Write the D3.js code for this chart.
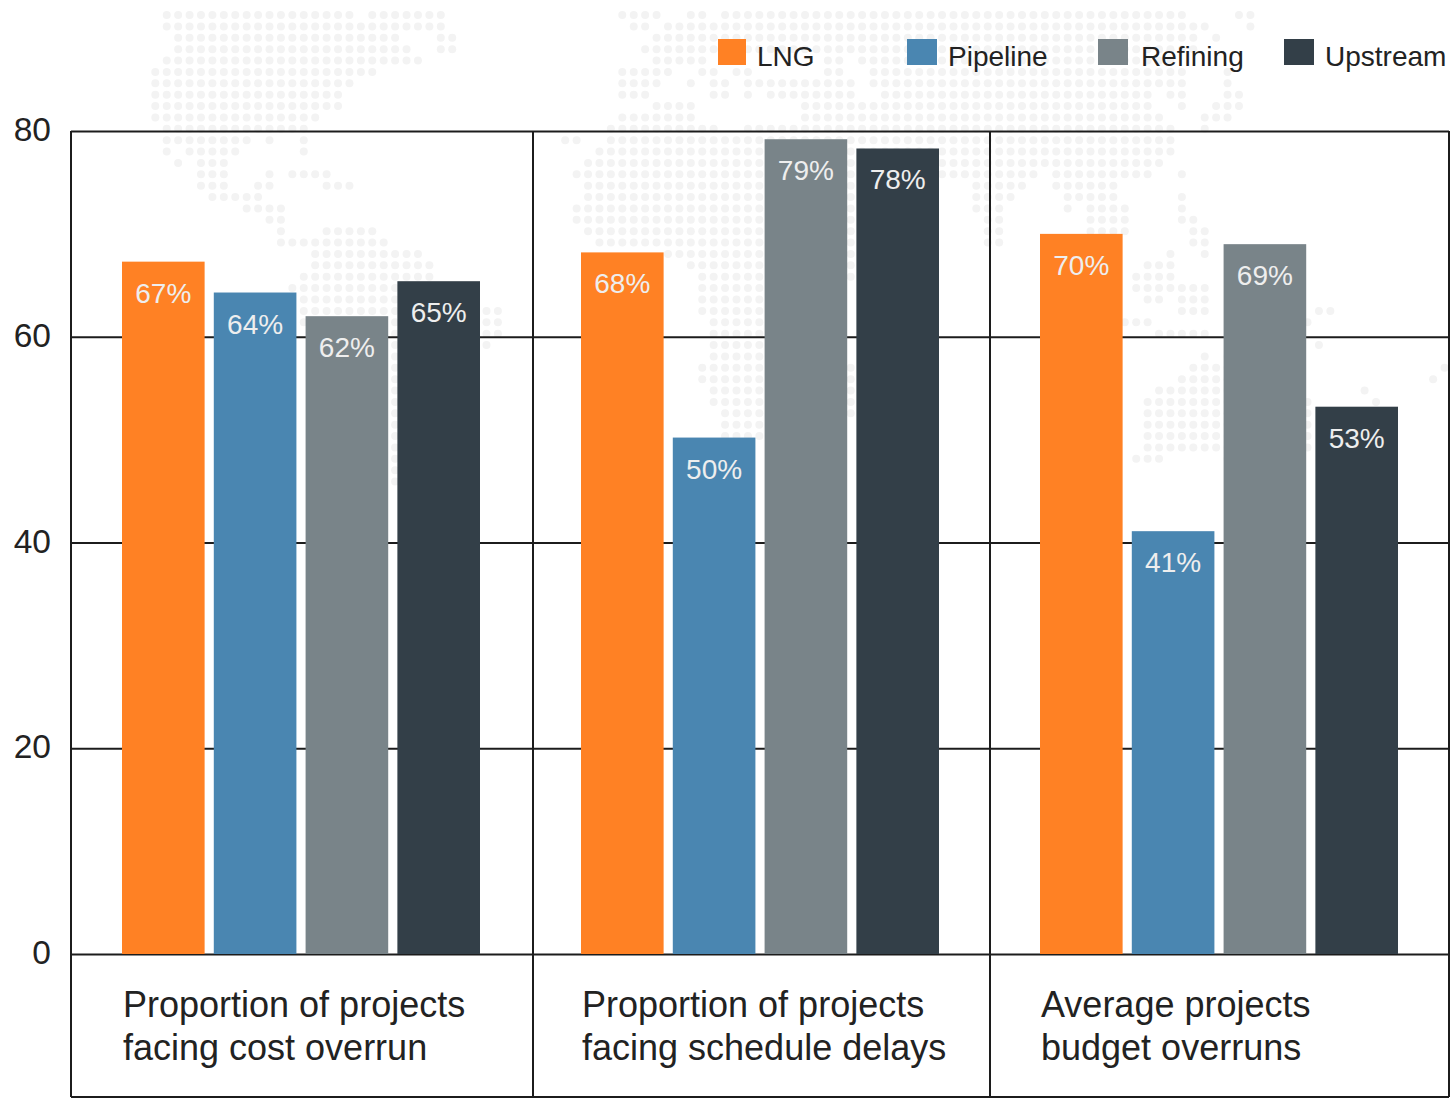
<!DOCTYPE html>
<html lang="en">
    <head>
        <meta charset="UTF-8" />
        <title>Project overruns by segment</title>
        <script src="https://cdn.jsdelivr.net/npm/d3@7"></script>
        <style>
            body { margin: 0; background: #fff; }
            svg { display: block; }
            text { font-family: "Liberation Sans", Arial, sans-serif; }
        </style>
    </head>
    <body>
        <div id="main_div"></div>
        <script>
          const segments = ["LNG", "Pipeline", "Refining", "Upstream"];
          const segmentColors = ["#ff8124", "#4a86b1", "#798489", "#333f48"];
          const categories = ["cost", "schedule", "budget"];
          const categoryLines = [
            ["Proportion of projects", "facing cost overrun"],
            ["Proportion of projects", "facing schedule delays"],
            ["Average projects", "budget overruns"]
          ];
          const lngValues = [67.3, 68.2, 70.0];
          const pipelineValues = [64.3, 50.2, 41.1];
          const refiningValues = [62.0, 79.2, 69.0];
          const upstreamValues = [65.4, 78.3, 53.2];
          const yTicks = [0, 20, 40, 60, 80];

          // background world map, dot columns per row
          const mapWest = ["1-17,19-25","1-25","2-21,25-26","2-22,25-26","1-23","0-19","0-17","0-16","0-16","0-14",
            "1-13","1-8,10,13","1,3-7,13","2,4-6","4-6,10,12-15","4-6,9-10,15-17","5-9","8-11","10-11","11,15-19",
            "11-20","14-23","14-24","13-24","12-24","13-26","13-30","13-30","14-30","15-29",
            "16-24","16-24","17-24","17-24","18-24","18-24","19-23","19-23","20-22","20-22","20-21","20-21"];
          const mapEast = ["5-8,11-12,14-54,59-60","6-7,9-56,60","8-55,57","7-55","8-12,23-24,26-53",
            "5-9,12-13,15-16,23-24,27-54,58","5-8,11,13-14,16-25,27-54,58","5-7,13-14,16,18-25,28-51,53-54,58-59",
            "8-11,21-51,54,57-59","5-11,21-52,56-58","4-13,16-53,56","0-1,4-53","3-53","2-52","1-41,43-51,54",
            "2-32,36-40,43-48","2-32,36-39,44-48,54","1-32,36-38,44,46-49,54","1-32,37-38,46-49,54-55",
            "2-32,37-38,46-49,55-56","3-32,37-38,55-56","9-25,53,56","11-25,51-53","12-25,50-53","12-19,50-56",
            "12-19,51-52,54-56","12-19,54-56,66-67","13-19,49-51,65","13-19,52-56","13-19,66","13-19,56,58",
            "12-25,55-58,77","12-25,54-58,76","13-25,52-60,70","13-25,51-65,71","14-25,51-65","14-19,51-65",
            "14-19,51-65","51-65","50-52,58"];

          const width = 1454, height = 1098;
          const panelEdges = [71, 533, 990, 1449];
          const plotBottom = 1097;

          const svg = d3.select("#main_div")
                      .append("svg")
                      .attr("width", width)
                      .attr("height", height);

          // expand "1-3,7" into [1,2,3,7]
          function expandRow(row) {
            let cols = [];
            row.split(",").forEach(part => {
              let ends = part.split("-").map(Number);
              d3.range(ends[0], ends[ends.length - 1] + 1).forEach(c => cols.push(c));
            });
            return cols;
          }

          function drawMap(rows, originX) {
            let dots = [];
            rows.forEach((row, j) => expandRow(row).forEach(c => dots.push([originX + c * 11.42, 15 + j * 11.38])));
            svg.append("g")
               .selectAll("circle")
               .data(dots)
               .enter()
               .append("circle")
               .attr("cx", d => d[0])
               .attr("cy", d => d[1])
               .attr("r", 4)
               .attr("fill", "#f3f3f3");
          }
          drawMap(mapWest, 155.3);
          drawMap(mapEast, 565.2);

          const y = d3.scaleLinear().domain([0, 80]).range([954, 131]);
          const x0 = d3.scaleBand().domain(categories).range([122, 1499]).paddingInner(0);
          const x1 = d3.scaleBand().domain(segments).range([0, 358]).paddingInner(0.1);

          // grid lines and y labels
          const yAxis = svg.append("g")
                           .attr("class", "y-axis")
                           .attr("transform", `translate(${panelEdges[0]},0)`)
                           .call(d3.axisLeft(y)
                                   .tickValues(yTicks)
                                   .tickSize(panelEdges[0] - panelEdges[3])
                                   .tickPadding(20));
          yAxis.select(".domain").remove();
          yAxis.selectAll("line").attr("stroke", "#1c1c1c").attr("stroke-width", 2);
          yAxis.selectAll("text")
               .attr("x", -20)
               .attr("y", -1)
               .attr("font-size", 33.5)
               .attr("fill", "#222")
               .style("font-family", '"Liberation Sans", Arial, sans-serif');

          // panel dividers
          svg.append("g")
             .selectAll("line")
             .data(panelEdges)
             .enter()
             .append("line")
             .attr("x1", d => d)
             .attr("x2", d => d)
             .attr("y1", y(80))
             .attr("y2", plotBottom)
             .attr("stroke", "#1c1c1c")
             .attr("stroke-width", 2);

          svg.append("line")
             .attr("x1", panelEdges[0])
             .attr("x2", panelEdges[3])
             .attr("y1", plotBottom)
             .attr("y2", plotBottom)
             .attr("stroke", "#1c1c1c")
             .attr("stroke-width", 2);

          const seriesValues = [lngValues, pipelineValues, refiningValues, upstreamValues];
          const bars = [];
          segments.forEach((s, i) => categories.forEach((c, k) => {
            bars.push({ segment: s, category: c, value: seriesValues[i][k], color: segmentColors[i] });
          }));

          const bar = svg.append("g")
                         .selectAll("g")
                         .data(bars)
                         .enter()
                         .append("g")
                         .attr("transform", d => `translate(${x0(d.category) + x1(d.segment)},0)`);

          bar.append("rect")
             .attr("width", x1.bandwidth())
             .attr("y", d => y(d.value))
             .attr("height", d => y(0) - y(d.value))
             .attr("fill", d => d.color);

          bar.append("text")
             .attr("x", x1.bandwidth() / 2)
             .attr("y", d => y(d.value) + 41)
             .attr("text-anchor", "middle")
             .attr("font-size", 28)
             .attr("fill", "#eeeeee")
             .text(d => Math.round(d.value) + "%");

          // category labels under the zero line
          categories.forEach((c, k) => {
            svg.append("g")
               .selectAll("text")
               .data(categoryLines[k])
               .enter()
               .append("text")
               .attr("x", x0(c) + 1)
               .attr("y", (d, i) => 1017 + i * 43)
               .attr("font-size", 36)
               .attr("fill", "#222")
               .text(d => d);
          });

          // legend
          const legendX = d3.scaleOrdinal().domain(segments).range([718, 907, 1098, 1284]);
          const legendItem = svg.append("g")
                                .selectAll("g")
                                .data(segments)
                                .enter()
                                .append("g")
                                .attr("transform", d => `translate(${legendX(d)},39)`);
          legendItem.append("rect")
                    .attr("width", (d, i) => i == 0 ? 28 : 30)
                    .attr("height", 26)
                    .attr("fill", (d, i) => segmentColors[i]);
          legendItem.append("text")
                    .attr("x", (d, i) => i == 0 ? 39 : i == 2 ? 43 : 41)
                    .attr("y", 27)
                    .attr("font-size", 28)
                    .attr("fill", "#222")
                    .text(d => d);
        </script>
    </body>
</html>
